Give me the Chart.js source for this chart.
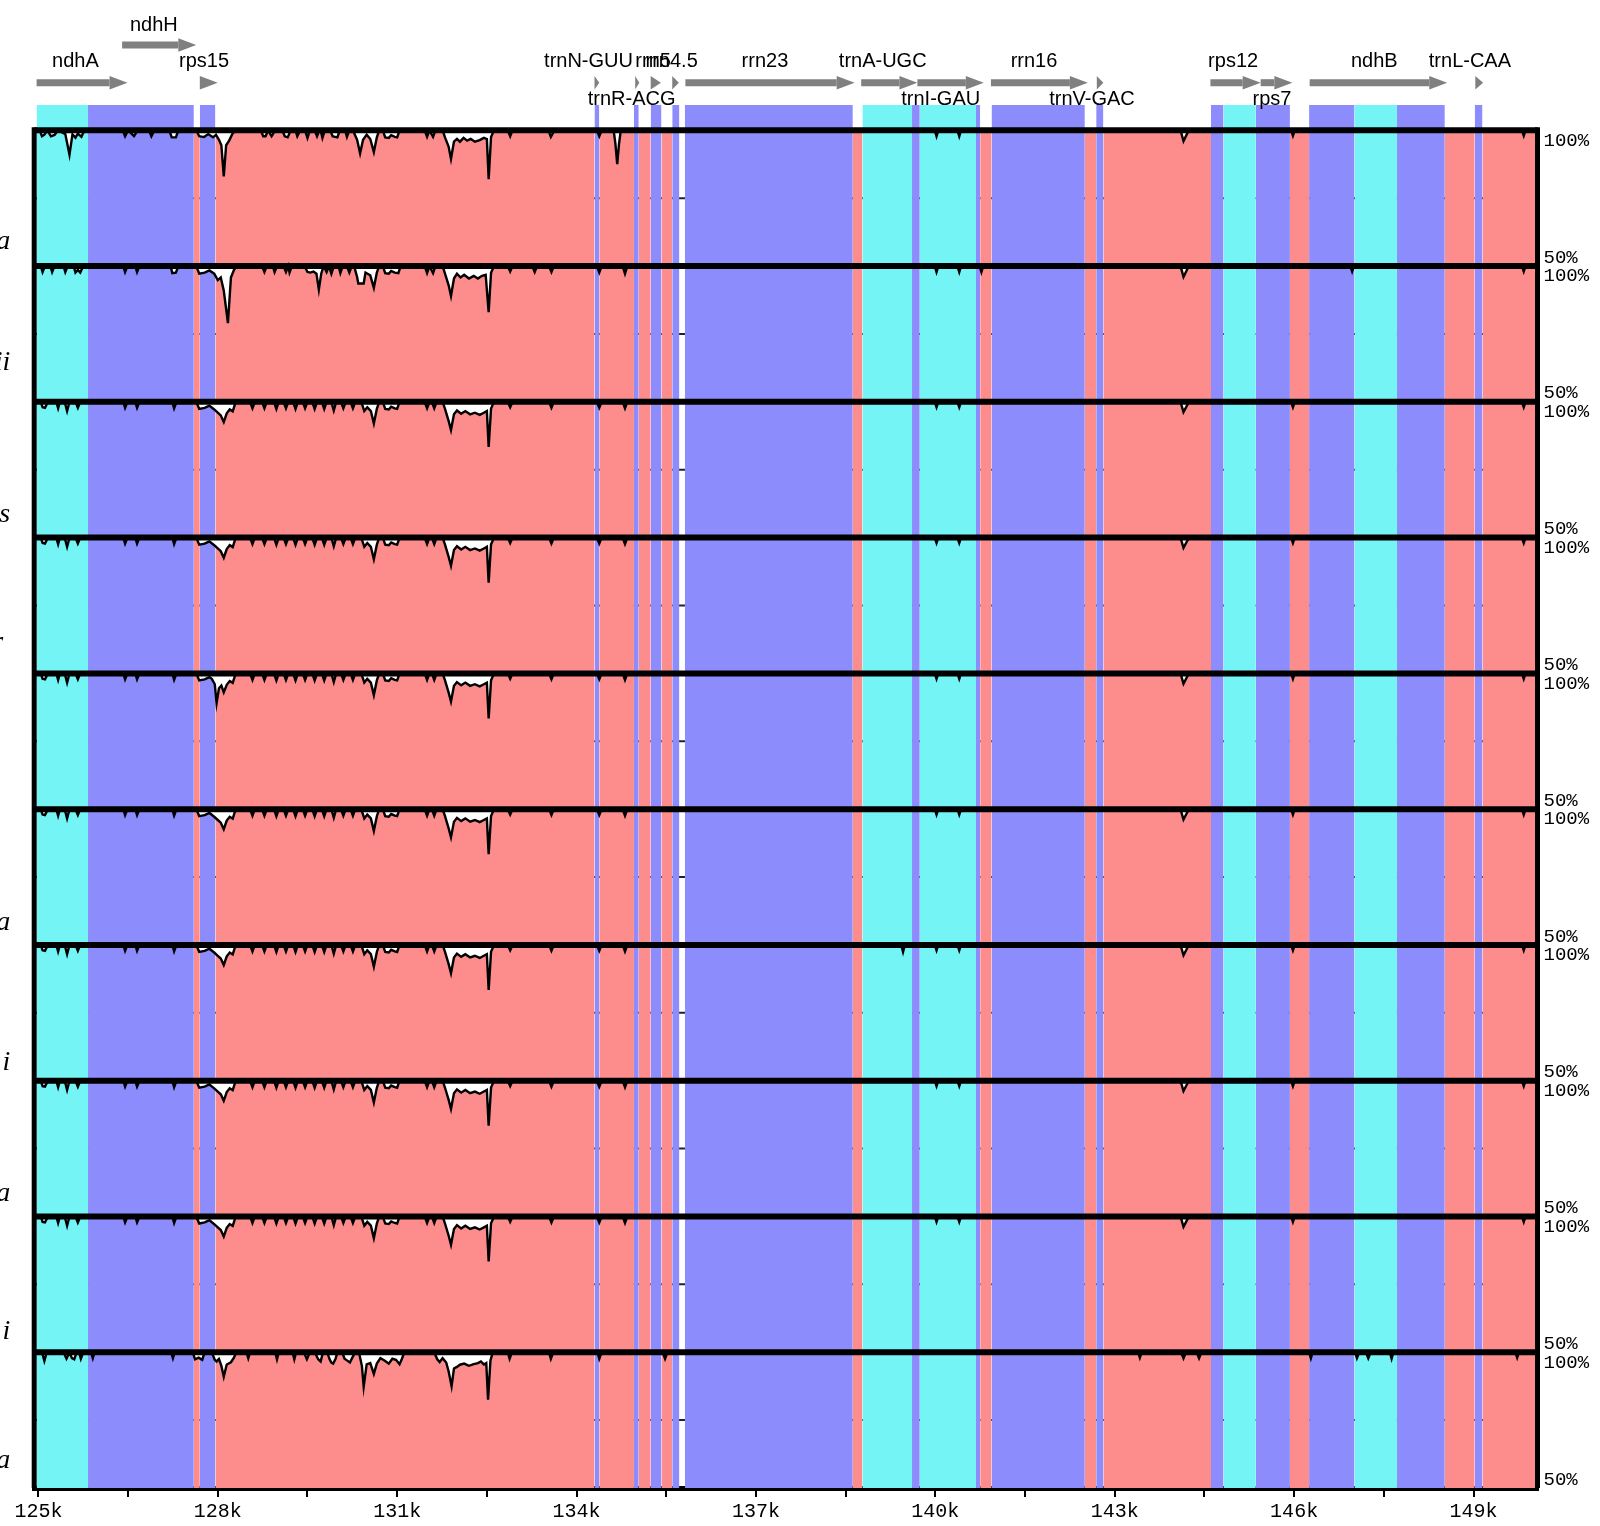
<!DOCTYPE html>
<html><head><meta charset="utf-8">
<script src="https://cdn.jsdelivr.net/npm/chart.js@4.4.0/dist/chart.umd.min.js"></script>
<style>html,body{margin:0;padding:0;background:#fff;}canvas{display:block;}</style>
</head><body>
<canvas id="c" width="1600" height="1526"></canvas>
<script>
// ---------------- DATA ----------------
const speciesNames = ['a', 'ii', 's', 'r ', 'e  ', 'a', 'i', 'a', 'i', 'a'];
const xTicksKb = [125, 126.5, 128, 129.5, 131, 132.5, 134, 135.5, 137, 138.5, 140, 141.5, 143, 144.5, 146, 147.5, 149];

const geneNames = ['ndhA','ndhH','rps15','trnN-GUU','trnR-ACG','rrn5','rrn4.5','rrn23','trnA-UGC','trnI-GAU','rrn16','trnV-GAC','rps12','rps7','ndhB','trnL-CAA'];
const geneStart = [124.97,126.40,127.70,134.30,134.98,135.24,135.60,135.82,138.76,139.70,140.93,142.70,144.60,145.44,146.26,149.03];
const geneEnd   = [126.49,127.64,128.00,134.38,135.05,135.41,135.71,138.65,139.70,140.81,142.55,142.81,145.44,145.97,148.56,149.16];
const geneRow   = [0,1,0,0,0,0,0,0,0,0,0,0,0,0,0,0];
const geneLabelX = [125.62,126.93,127.77,134.20,134.92,135.28,135.59,137.15,139.12,140.09,141.65,142.62,144.98,145.63,147.34,148.94];
const geneLabelSide = ['up','up','up','up','down','up','up','up','up','down','up','down','up','down','up','up'];

const exonBands = [[125.83,127.60],[127.70,127.96],[134.30,134.38],[134.96,135.04],[135.24,135.42],[135.60,135.72],[135.81,138.62],[139.61,139.74],[140.68,140.75],[140.94,142.50],[142.69,142.81],[144.61,144.82],[145.36,145.93],[146.25,147.01],[147.72,148.52],[149.02,149.15]];
const utrBands  = [[124.97,125.83],[138.78,139.61],[139.74,140.68],[144.82,145.36],[147.01,147.72]];
const cnsBands  = [[127.60,127.70],[127.96,134.30],[134.38,134.96],[135.04,135.24],[135.42,135.60],[138.62,138.78],[140.75,140.94],[142.50,142.69],[142.81,144.61],[145.93,146.25],[148.52,149.02],[149.15,150.07]];

// identity (%) along the sequence (kb), one list per track
const identity1 = [[124.93,100],[125.02,100],[125.06,97.8],[125.1,98.4],[125.15,100],[125.21,97.8],[125.27,98.3],[125.33,100],[125.45,98.6],[125.52,91],[125.57,98.5],[125.62,97.3],[125.66,98.8],[125.72,97.6],[125.77,100],
[126.41,100],[126.45,97.8],[126.5,100],[126.6,97.9],[126.66,100],[126.85,100],[126.89,97.8],[126.94,100],[127.19,100],[127.23,97.4],[127.3,97.4],[127.34,100],
[127.64,100],[127.69,97.8],[127.77,97.5],[127.84,98.6],[127.92,97.4],[127.97,98.3],[128.02,96.5],[128.06,94.5],[128.1,83],[128.14,94.5],[128.19,96.2],[128.24,98.5],[128.29,100],
[128.72,100],[128.76,97.8],[128.8,97.8],[128.84,100],[128.9,97.8],[128.96,100],[129.08,100],[129.12,97.8],[129.17,97.4],[129.22,100],[129.3,100],[129.33,97.8],[129.38,100],[129.46,100],[129.5,97.2],[129.54,100],[129.62,100],[129.66,97.8],[129.7,100],[129.72,100],[129.75,97.2],[129.79,100],[129.88,100],[129.92,97.8],[129.96,97.6],[130.0,97.4],[130.04,100],[130.13,100],[130.16,97.6],[130.2,100],[130.26,100],
[130.33,96.5],[130.38,91.5],[130.43,96.5],[130.49,98.4],[130.55,96.8],[130.61,92],[130.66,97.4],[130.7,100],[130.76,100],[130.8,97.4],[130.86,97.2],[130.9,98.2],[130.96,97.6],[131.0,97.4],[131.04,100],
[131.46,100],[131.5,97.6],[131.54,100],[131.6,97.6],[131.64,100],[131.76,100],[131.8,97.4],[131.86,94],[131.9,89.5],[131.95,95.8],[132.0,96.8],[132.05,95.8],[132.11,97.2],[132.17,96.2],[132.23,96.8],[132.3,95.8],[132.38,96.4],[132.45,97.2],[132.5,96.8],[132.53,82],[132.57,97.5],[132.62,100],
[132.85,100],[132.89,97.8],[132.93,100],[133.53,100],[133.57,97.6],[133.6,98.8],[133.63,100],
[134.34,100],[134.38,97.8],[134.42,100],[134.62,100],[134.65,95],[134.68,87.5],[134.71,95],[134.74,100],
[139.99,100],[140.02,97.8],[140.05,100],[140.37,100],[140.4,97.8],[140.43,100],
[144.1,100],[144.15,96],[144.2,98.3],[144.24,100],
[145.95,100],[145.98,98],[146.01,100],
[149.81,100],[149.84,98],[149.87,100],[150.07,100]];

const identity2 = [[124.93,100],[125.04,100],[125.07,97.8],[125.11,100],[125.2,100],[125.23,97.8],[125.27,100],[125.42,100],[125.45,97.8],[125.49,100],[125.59,100],[125.62,97.6],[125.66,98.6],[125.7,97.6],[125.75,100],
[126.42,100],[126.45,97.8],[126.49,100],[126.62,100],[126.65,97.8],[126.69,100],[127.21,100],[127.24,97.4],[127.3,97.6],[127.34,100],
[127.64,100],[127.69,97.2],[127.78,97.6],[127.86,98.4],[127.94,97.2],[128.0,94.8],[128.05,95.8],[128.1,91],[128.17,79],[128.22,95.8],[128.27,98.5],[128.31,100],
[128.74,100],[128.78,97.8],[128.82,100],[128.92,100],[128.95,97.8],[128.99,100],[129.1,100],[129.14,97.8],[129.18,100],[129.2,97.6],[129.24,100],[129.45,100],[129.5,97.8],[129.55,97.6],[129.6,98],[129.65,97.2],[129.69,91.3],[129.73,97.2],[129.77,100],[129.82,97.8],[129.86,100],[129.9,97.2],[129.94,100],[130.02,100],[130.05,97.4],[130.09,100],[130.16,100],[130.2,97.6],[130.24,100],[130.28,100],
[130.33,96],[130.35,93.6],[130.44,93.6],[130.47,97.6],[130.55,96.6],[130.61,92],[130.66,97.6],[130.7,100],[130.76,100],[130.8,97.4],[130.86,97.2],[130.9,98.2],[130.96,97.6],[131.02,97.4],[131.06,100],
[131.46,100],[131.5,97.4],[131.54,100],[131.6,97.4],[131.64,100],[131.76,100],[131.8,97.2],[131.86,93],[131.9,89],[131.95,95.4],[132.0,97.2],[132.06,95.8],[132.12,96.8],[132.2,95.4],[132.28,96.4],[132.35,95.4],[132.42,96.4],[132.48,96.8],[132.53,83],[132.57,97.5],[132.62,100],
[132.85,100],[132.89,98],[132.93,100],[133.26,100],[133.3,97.8],[133.34,100],[133.54,100],[133.58,97.8],[133.62,100],
[134.34,100],[134.38,97.6],[134.42,100],[134.77,100],[134.81,97.2],[134.85,100],
[139.99,100],[140.02,97.8],[140.05,100],[140.37,100],[140.4,97.8],[140.43,100],[140.74,100],[140.77,97.8],[140.8,100],
[144.1,100],[144.15,96],[144.2,98.3],[144.24,100],
[146.94,100],[146.97,98],[147.0,100],
[149.81,100],[149.84,98],[149.87,100],[150.07,100]];

const identity3 = [[124.93,100],[125.04,100],[125.07,98],[125.11,97.8],[125.16,100],[125.3,100],[125.33,97.6],[125.36,100],[125.44,100],[125.48,96.6],[125.52,100],[125.62,100],[125.66,97.8],[125.7,100],
[126.42,100],[126.45,97.8],[126.49,100],[126.62,100],[126.65,97.8],[126.69,100],[127.24,100],[127.27,97.6],[127.31,100],
[127.64,100],[127.69,97.4],[127.78,97.8],[127.86,98.6],[127.94,97.2],[128.0,96],[128.05,95],[128.1,92.6],[128.15,95.8],[128.2,97.2],[128.25,96.5],[128.3,100],
[128.54,100],[128.58,97.6],[128.62,100],[128.74,100],[128.78,97.6],[128.82,100],[128.94,100],[128.98,97.4],[129.02,100],[129.1,100],[129.14,97.6],[129.18,100],[129.26,100],[129.3,97.4],[129.34,100],[129.42,100],[129.46,97.6],[129.5,100],[129.58,100],[129.62,97.4],[129.66,100],[129.74,100],[129.78,97.4],[129.82,100],[129.9,100],[129.94,96.8],[129.98,100],[130.06,100],[130.1,97.6],[130.14,100],[130.22,100],[130.26,97.6],[130.3,100],
[130.4,100],[130.45,96.6],[130.5,98],[130.56,96.6],[130.61,92],[130.66,97.4],[130.7,100],[130.76,100],[130.8,97.4],[130.86,97.2],[130.9,98.2],[130.96,97.6],[131.0,97.4],[131.04,100],
[131.46,100],[131.5,97.6],[131.54,100],[131.58,100],[131.62,97.6],[131.66,100],[131.76,100],[131.8,97.4],[131.86,93],[131.9,89.6],[131.95,95.4],[132.0,96.8],[132.07,95.6],[132.14,96.6],[132.22,95.4],[132.3,96],[132.38,95.2],[132.45,96],[132.5,96.6],[132.53,83.4],[132.57,97.5],[132.62,100],
[132.85,100],[132.89,98],[132.93,100],[133.54,100],[133.58,97.8],[133.62,100],
[134.34,100],[134.38,97.8],[134.42,100],[134.77,100],[134.81,97.6],[134.85,100],
[139.99,100],[140.02,98],[140.05,100],[140.37,100],[140.4,98],[140.43,100],
[144.1,100],[144.15,96.2],[144.2,98.3],[144.24,100],
[145.95,100],[145.98,98],[146.01,100],
[149.81,100],[149.84,98],[149.87,100],[150.07,100]];

// local differences of tracks 5 and 7 from track 3
const identity5Patch = [[127.9,98],[127.95,96],[127.98,89],[128.02,94.5],[128.06,95.5],[128.1,93],[128.15,95.8],[128.2,97.2]];
const identity7Patch = [[139.43,100],[139.46,97.4],[139.49,100]];

const identity10 = [[124.93,100],[125.06,100],[125.1,96.8],[125.14,100],[125.42,100],[125.47,97.6],[125.52,100],[125.56,97.8],[125.6,97.4],[125.64,100],[125.68,100],[125.71,97.6],[125.75,100],[125.88,100],[125.91,97.8],[125.94,100],
[127.22,100],[127.25,97.8],[127.28,100],[127.58,100],[127.62,97.4],[127.68,98],[127.74,97.2],[127.78,100],
[127.9,100],[127.95,97.2],[127.98,96.6],[128.02,97.5],[128.06,95],[128.1,91],[128.15,95.5],[128.22,96.3],[128.27,98],[128.31,100],
[128.48,100],[128.51,97.8],[128.54,100],[128.96,100],[128.99,97.4],[129.02,100],[129.25,100],[129.28,97.4],[129.31,100],[129.44,100],[129.49,97.4],[129.54,100],[129.62,100],[129.68,97.4],[129.72,96.6],[129.76,100],[129.83,100],[129.87,97.4],[129.9,96.2],[129.93,95.8],[129.97,97.6],[130.0,100],[130.08,100],[130.12,97.6],[130.16,97],[130.21,96.2],[130.25,98],[130.3,100],[130.36,100],
[130.41,95],[130.44,87.3],[130.49,95.5],[130.55,96],[130.61,92],[130.66,95.8],[130.72,97.8],[130.8,96.8],[130.86,95.8],[130.92,97.6],[130.98,97.2],[131.04,95.6],[131.08,97.6],[131.12,100],
[131.62,100],[131.67,97.4],[131.71,96.4],[131.76,97.8],[131.82,96.2],[131.86,93],[131.91,87.5],[131.95,94],[132.0,94.6],[132.05,95.4],[132.12,95.8],[132.2,95],[132.28,95.6],[132.35,96],[132.4,96.6],[132.45,95.5],[132.49,96],[132.52,82.5],[132.56,97],[132.6,100],
[132.85,100],[132.88,97.6],[132.92,100],[133.54,100],[133.57,97.6],[133.61,100],[134.35,100],[134.38,97.6],[134.42,100],[135.44,100],[135.48,97.6],[135.52,100],
[143.39,100],[143.42,98],[143.45,100],[144.11,100],[144.15,97.8],[144.19,100],[144.37,100],[144.41,97.8],[144.45,100],
[146.25,100],[146.28,97.8],[146.31,100],[147.02,100],[147.05,97.8],[147.09,100],[147.2,100],[147.24,97.8],[147.28,100],[147.6,100],[147.63,97.6],[147.66,100],
[149.7,100],[149.73,98],[149.76,100],[150.07,100]];

// ---------------- LAYOUT / STYLE ----------------
const X_MIN = 124.93, X_MAX = 150.07;
const Y_MIN = -400, Y_MAX = 144.3;
const SPAN = 50;                 // value units per track (100% -> 50%)
const off = i => -SPAN * i;
const speciesLevel = [58.9, 64.3, 58.3, 61.2, 62.2, 58.1, 56.5, 58.3, 57.5, 60.0];
const ROW_Y = [117.53, 131.41];
const LABEL_UP = [125.26, 138.78];
const LABEL_DOWN = 111.42;
const STRIP_TOP = 109.32;
const HEAD_KB = 0.30, HEAD_HALF = 2.47;

const C_EXON = '#8c8cfc', C_UTR = '#74f4f4', C_CNS = '#fd8c8c', C_ARROW = '#808080';

function patch(base, p) {
  const lo = p[0][0], hi = p[p.length - 1][0];
  return base.filter(q => q[0] < lo || q[0] > hi).concat(p).sort((a, b) => a[0] - b[0]);
}
const tracks = [identity1, identity2, identity3, identity3, patch(identity3, identity5Patch), identity3,
                patch(identity3, identity7Patch), identity3, identity3, identity10];

const T = 'rgba(0,0,0,0)';
const ds = [];
// faint 75% guide lines (visible only where no band)
tracks.forEach((_, i) => ds.push({data: [{x: X_MIN, y: 75 + off(i)}, {x: X_MAX, y: 75 + off(i)}],
  borderColor: '#222', borderWidth: 2, order: 100}));
// coloured bands through all tracks
function band(s, e, top, bottom, color, order) {
  return {data: [{x: s, y: top}, {x: e, y: top}], fill: {value: bottom}, backgroundColor: color,
    borderColor: T, borderWidth: 1, order};
}
cnsBands.forEach(b => ds.push(band(b[0], b[1], 100, Y_MIN, C_CNS, 90)));
exonBands.forEach(b => ds.push(band(b[0], b[1], 100, Y_MIN, C_EXON, 90)));
utrBands.forEach(b => ds.push(band(b[0], b[1], 100, Y_MIN, C_UTR, 90)));
// annotation strip (genes only)
exonBands.forEach(b => ds.push(band(b[0], b[1], STRIP_TOP, 100, C_EXON, 85)));
utrBands.forEach(b => ds.push(band(b[0], b[1], STRIP_TOP, 100, C_UTR, 85)));
// identity curves
tracks.forEach((t, i) => ds.push({data: t.map(p => ({x: p[0], y: p[1] + off(i)})),
  fill: {value: 100 + off(i)}, backgroundColor: '#ffffff', borderColor: '#000', borderWidth: 2.4,
  borderJoinStyle: 'miter', order: 50}));
// track top lines
tracks.forEach((_, i) => ds.push({data: [{x: X_MIN, y: 100 + off(i)}, {x: X_MAX, y: 100 + off(i)}],
  borderColor: '#000', borderWidth: 6, order: 20, clip: false}));
// left/right frame
[X_MIN, X_MAX].forEach(xv => ds.push({data: [{x: xv, y: Y_MIN}, {x: xv, y: 101.1}],
  borderColor: '#000', borderWidth: 5, order: 15, clip: false}));
// gene arrows
geneNames.forEach((g, i) => {
  const y = ROW_Y[geneRow[i]];
  const hs = Math.max(geneStart[i], geneEnd[i] - HEAD_KB);
  if (hs > geneStart[i]) ds.push({data: [{x: geneStart[i], y}, {x: hs, y}], borderColor: C_ARROW,
    borderWidth: 7, order: 10, clip: false});
  ds.push({data: [{x: hs, y: y + HEAD_HALF}, {x: geneEnd[i], y}, {x: hs, y: y - HEAD_HALF}],
    fill: 'shape', backgroundColor: C_ARROW, borderColor: T, borderWidth: 1, order: 9, clip: false});
});

const geneLabelPlugin = {
  id: 'geneLabels',
  afterDatasetsDraw(chart) {
    const {ctx, scales: {x, y}} = chart;
    ctx.save();
    ctx.font = '20px "Liberation Sans", Arial, sans-serif';
    ctx.fillStyle = '#000';
    ctx.textAlign = 'center';
    ctx.textBaseline = 'middle';
    geneNames.forEach((n, i) => {
      const lv = geneLabelSide[i] === 'down' ? LABEL_DOWN : LABEL_UP[geneRow[i]];
      ctx.fillText(n, x.getPixelForValue(geneLabelX[i]), y.getPixelForValue(lv));
    });
    ctx.restore();
  }
};

const pctTicks = [], pctLabels = [];
tracks.forEach((_, i) => {
  pctTicks.push(100 + off(i) - 3.8); pctLabels.push('100%');
  pctTicks.push(50 + off(i) + 3.1); pctLabels.push('50%');
});

function noPad(s) { s.paddingTop = 0; s.paddingBottom = 0; s.paddingLeft = 0; s.paddingRight = 0; }

new Chart(document.getElementById('c'), {
  type: 'line',
  data: {datasets: ds},
  plugins: [geneLabelPlugin],
  options: {
    responsive: false, animation: false,
    layout: {padding: {top: 10, left: 0, right: 0, bottom: 0}},
    elements: {point: {radius: 0, hoverRadius: 0}, line: {tension: 0, borderCapStyle: 'butt'}},
    plugins: {legend: {display: false}, tooltip: {enabled: false}},
    events: [],
    scales: {
      x: {
        type: 'linear', min: X_MIN, max: X_MAX,
        afterBuildTicks: s => { s.ticks = xTicksKb.map(v => ({value: v})); },
        afterFit: s => { s.height = 38; noPad(s); },
        ticks: {
          autoSkip: false, maxRotation: 0, padding: 3, color: '#000',
          font: {family: '"Liberation Mono", "DejaVu Sans Mono", monospace', size: 20},
          callback: v => (Math.abs((v - 125) % 3) < 1e-6 ? v + 'k' : '')
        },
        grid: {display: true, drawOnChartArea: false, drawTicks: true, tickLength: 9, color: '#000', lineWidth: 2},
        border: {display: true, color: '#000', width: 5}
      },
      y: {
        type: 'linear', position: 'left', min: Y_MIN, max: Y_MAX,
        afterBuildTicks: s => { s.ticks = speciesLevel.map((v, i) => ({value: v + off(i)})); },
        afterFit: s => { s.width = 34.2; noPad(s); },
        ticks: {
          autoSkip: false, padding: 24, color: '#000',
          font: {family: '"Liberation Serif", "DejaVu Serif", serif', size: 28, style: 'italic'},
          callback: (v, i) => speciesNames[i]
        },
        grid: {display: false, drawTicks: false},
        border: {display: false}
      },
      yr: {
        type: 'linear', position: 'right', min: Y_MIN, max: Y_MAX,
        afterBuildTicks: s => { s.ticks = pctTicks.map(v => ({value: v})); },
        afterFit: s => { s.width = 62.5; noPad(s); },
        ticks: {
          autoSkip: false, padding: 6, color: '#000',
          font: {family: '"Liberation Mono", "DejaVu Sans Mono", monospace', size: 19},
          callback: (v, i) => pctLabels[i]
        },
        grid: {display: false, drawTicks: false},
        border: {display: false}
      }
    }
  }
});
</script>
</body></html>
